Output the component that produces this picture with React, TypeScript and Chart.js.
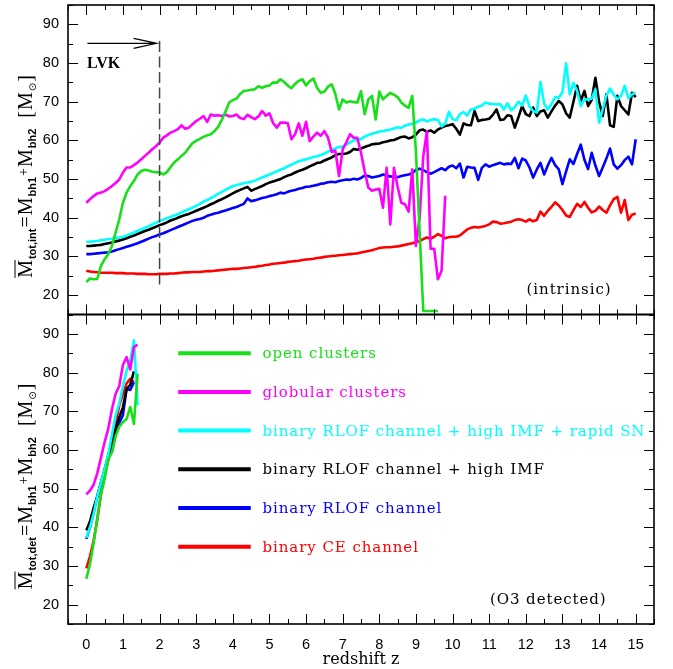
import React, { useEffect, useRef } from 'react';
import { Chart, registerables } from 'chart.js';

Chart.register(...registerables);

// redshift grids (sample positions)
const Z_INT: number[] = Array.from({ length: 151 }, (_, i) => i / 10);
const Z_DET: number[] = Array.from({ length: 15 }, (_, i) => i / 10);

// axis tick labels
const X_TICKS = [0, 1, 2, 3, 4, 5, 6, 7, 8, 9, 10, 11, 12, 13, 14, 15];
const Y_TICKS = [20, 30, 40, 50, 60, 70, 80, 90];

// ---------- intrinsic (top panel) ----------
const GREEN_INT = [
  23.4, 24.3, 24.1, 24.2, 27.6, 29.3, 30.6, 32.7, 36.2, 39.6,
  43.9, 46.5, 48.2, 49.5, 51.2, 52.1, 52.4, 52.2, 51.9, 51.8,
  51.7, 51.2, 51.8, 53.1, 54.3, 55.1, 56.0, 56.8, 58.1, 59.3,
  59.9, 60.4, 60.9, 61.3, 61.6, 62.4, 63.5, 65.3, 67.5, 69.8,
  70.4, 70.8, 72.0, 72.8, 72.9, 73.1, 73.2, 74.0, 73.6, 74.0,
  74.2, 75.0, 74.9, 75.8, 75.1, 74.2, 73.5, 74.6, 75.4, 75.8,
  74.2, 75.3, 76.0, 73.6, 72.3, 72.6, 73.9, 74.5, 72.0, 68.0,
  70.6, 69.8, 70.1, 69.9, 69.8, 72.7, 66.8, 70.6, 71.5, 65.4,
  72.6, 70.6, 71.5, 72.3, 71.8, 71.2, 69.8, 69.0, 68.4, 71.5,
  57.0, 36.5, 15.9, 15.9, 15.9, 15.9, 15.9,
];
const MAGENTA_INT = [
  43.9, 44.8, 45.6, 46.3, 46.5, 46.9, 47.5, 48.2, 49.0, 49.9,
  51.7, 53.0, 53.0, 53.6, 54.3, 55.1, 56.0, 56.8, 57.7, 58.5,
  59.4, 60.7, 61.3, 62.0, 62.4, 62.9, 63.9, 63.0, 63.3, 64.2,
  65.0, 65.6, 66.3, 64.8, 66.7, 66.4, 66.5, 66.3, 66.7, 66.2,
  66.3, 66.7, 65.8, 65.5, 66.6, 66.0, 65.5, 66.2, 67.6, 66.4,
  67.0, 64.5, 63.3, 64.6, 64.6, 64.5, 60.3, 61.6, 64.4, 61.2,
  64.8, 59.8, 61.0, 62.0, 61.2, 62.4, 60.7, 57.0, 57.3, 50.8,
  57.7, 59.5, 61.6, 60.7, 60.7, 56.8, 52.0, 47.8, 47.0, 47.3,
  47.5, 42.6, 52.9, 38.3, 52.9, 48.0, 43.9, 43.5, 41.6, 52.5,
  32.7, 40.0, 55.9, 62.4, 32.0, 32.0, 24.1, 26.3, 45.7,
];
const CYAN_INT = [
  33.8, 33.8, 33.9, 34.0, 34.2, 34.3, 34.5, 34.6, 34.8, 34.9,
  35.1, 35.4, 35.8, 36.2, 36.6, 37.0, 37.4, 37.8, 38.3, 38.7,
  39.2, 39.5, 39.9, 40.2, 40.6, 40.9, 41.4, 41.8, 42.2, 42.6,
  43.1, 43.6, 44.2, 44.6, 45.1, 45.6, 46.2, 46.7, 47.2, 47.7,
  48.2, 48.4, 48.7, 48.9, 49.1, 49.3, 49.6, 50.0, 50.4, 50.8,
  51.2, 51.6, 52.0, 52.4, 52.8, 53.3, 53.7, 54.2, 54.6, 54.9,
  55.1, 55.4, 55.7, 55.9, 56.2, 56.6, 57.1, 57.5, 57.9, 58.3,
  58.4, 58.9, 59.5, 60.0, 60.2, 60.4, 61.0, 61.4, 61.7, 62.0,
  62.3, 62.4, 62.6, 62.8, 63.1, 63.4, 63.2, 63.8, 64.1, 64.3,
  64.6, 65.2, 65.4, 64.9, 65.3, 65.5, 65.3, 63.6, 64.3, 67.4,
  65.5, 65.2, 66.8, 67.3, 66.4, 68.0, 68.2, 68.7, 69.0, 69.8,
  69.5, 69.4, 69.3, 69.4, 68.0, 69.6, 67.8, 68.6, 70.0, 69.0,
  71.6, 68.8, 67.6, 67.2, 75.1, 69.5, 68.0, 69.4, 71.2, 71.0,
  72.5, 79.9, 71.9, 74.9, 72.8, 68.9, 70.6, 70.6, 70.8, 73.2,
  64.6, 68.0, 71.6, 73.4, 71.8, 70.6, 71.5, 74.1, 70.9, 71.9,
  72.3,
];
const BLACK_INT = [
  32.7, 32.7, 32.8, 32.9, 33.0, 33.2, 33.4, 33.6, 33.9, 34.1,
  34.4, 34.7, 35.1, 35.4, 35.8, 36.2, 36.6, 36.9, 37.3, 37.7,
  38.1, 38.4, 38.8, 39.3, 39.6, 40.0, 40.4, 40.7, 41.0, 41.4,
  41.8, 42.2, 42.6, 43.0, 43.5, 43.9, 44.4, 44.8, 45.3, 45.8,
  46.3, 46.8, 47.2, 47.6, 48.0, 47.0, 47.4, 47.8, 48.2, 48.7,
  49.1, 49.4, 49.7, 50.0, 50.5, 50.9, 51.2, 51.7, 52.1, 52.4,
  52.8, 53.3, 53.7, 54.2, 54.3, 54.8, 55.2, 55.6, 56.2, 56.5,
  56.5, 56.6, 57.0, 57.8, 57.6, 57.9, 58.3, 58.6, 59.0, 59.1,
  59.2, 59.5, 59.7, 60.0, 60.1, 60.5, 60.9, 61.0, 60.5, 60.8,
  61.5, 62.6, 62.8, 62.2, 62.6, 62.0, 62.8, 63.3, 63.7, 63.9,
  64.2, 63.0, 61.5, 64.4, 64.0, 63.9, 67.6, 65.0, 65.3, 65.4,
  65.6, 66.6, 68.0, 65.3, 65.4, 66.5, 66.3, 63.3, 66.0, 68.9,
  66.8, 66.3, 68.5, 66.3, 67.5, 67.8, 65.9, 67.5, 69.0, 70.2,
  69.3, 67.0, 65.9, 70.0, 74.1, 70.2, 72.8, 68.9, 70.5, 76.2,
  70.0, 66.3, 71.9, 63.9, 63.5, 71.5, 68.9, 67.8, 66.7, 72.3,
  71.2,
];
const BLUE_INT = [
  30.6, 30.6, 30.7, 30.8, 30.9, 31.0, 31.1, 31.3, 31.6, 31.9,
  32.2, 32.5, 32.8, 33.1, 33.4, 33.8, 34.2, 34.6, 35.0, 35.3,
  35.7, 36.0, 36.4, 36.8, 37.2, 37.6, 38.0, 38.4, 38.8, 39.2,
  39.5, 39.7, 40.0, 40.5, 40.8, 41.1, 41.3, 41.6, 41.9, 42.2,
  42.5, 42.8, 43.2, 43.6, 45.0, 44.3, 44.5, 44.8, 45.1, 45.3,
  45.6, 45.8, 46.1, 46.5, 46.3, 46.7, 47.0, 47.2, 47.5, 47.7,
  48.0, 48.1, 48.3, 48.5, 48.8, 48.9, 49.2, 49.3, 49.2, 49.5,
  49.7, 49.9, 49.8, 50.1, 49.9, 50.3, 50.9, 50.8, 50.4, 50.6,
  50.8, 51.2, 50.9, 50.7, 50.6, 50.5, 50.8, 51.0, 51.2, 51.5,
  52.4, 52.7, 52.3, 51.8, 51.4, 51.8, 52.3, 52.8, 52.3, 53.2,
  53.5, 52.8, 54.0, 50.4, 53.2, 53.0, 52.9, 49.8, 52.9, 53.8,
  53.2, 53.6, 53.9, 54.2, 53.8, 54.0, 53.9, 55.5, 52.8, 55.3,
  54.8, 53.0, 50.4, 52.5, 54.2, 51.2, 53.5, 55.5, 53.6, 52.5,
  48.7, 52.0, 55.1, 53.9, 56.5, 58.9, 55.0, 52.6, 56.8, 53.5,
  50.8, 53.0, 55.3, 57.9, 53.8, 52.7, 53.6, 54.9, 55.8, 53.8,
  60.3,
];
const RED_INT = [
  26.3, 26.1, 26.0, 25.9, 25.8, 25.8, 25.8, 25.8, 25.7, 25.7,
  25.7, 25.6, 25.6, 25.6, 25.5, 25.5, 25.5, 25.4, 25.4, 25.4,
  25.5, 25.5, 25.5, 25.6, 25.6, 25.7, 25.8, 25.9, 25.9, 26.0,
  26.0, 26.0, 26.1, 26.2, 26.2, 26.3, 26.4, 26.5, 26.6, 26.7,
  26.8, 26.8, 26.9, 27.0, 27.1, 27.2, 27.3, 27.5, 27.6, 27.8,
  27.9, 28.1, 28.2, 28.3, 28.4, 28.6, 28.7, 28.8, 28.9, 29.1,
  29.2, 29.3, 29.4, 29.6, 29.7, 29.9, 30.0, 30.1, 30.2, 30.3,
  30.4, 30.5, 30.6, 30.7, 30.8, 31.0, 31.2, 31.4, 31.6, 31.9,
  32.2, 32.3, 32.4, 32.4, 32.5, 32.6, 32.8, 33.0, 33.2, 33.4,
  33.7, 34.0, 34.5, 34.9, 34.6, 35.1, 35.8, 35.3, 34.7, 35.0,
  35.1, 35.1, 35.4, 36.2, 37.0, 37.4, 37.6, 37.5, 37.7, 37.9,
  38.3, 39.0, 38.9, 38.5, 38.6, 38.8, 39.0, 39.4, 39.6, 39.4,
  39.0, 39.6, 39.1, 39.4, 41.6, 40.5, 41.8, 42.8, 44.0, 43.2,
  42.0, 40.6, 40.2, 42.0, 43.6, 42.8, 44.1, 42.6, 41.4, 41.8,
  42.9, 42.0, 41.3, 43.2, 44.8, 45.4, 41.3, 44.6, 39.4, 40.8,
  41.1,
];

// ---------- O3 detected (bottom panel) ----------
const GREEN_DET = [26.7, 30.5, 36.0, 42.5, 48.5, 52.5, 57.5, 59.4, 63.5, 66.0, 67.2, 68.0, 71.1, 66.7, 79.7];
const MAGENTA_DET = [48.5, 49.5, 51.0, 54.0, 58.0, 62.0, 65.5, 70.5, 74.5, 76.5, 82.0, 84.0, 80.8, 86.6, 87.2];
const CYAN_DET = [37.3, 40.0, 43.5, 48.0, 51.5, 55.0, 59.0, 64.0, 69.0, 72.0, 76.5, 80.5, 83.0, 88.3, 71.5];
const BLACK_DET = [39.2, 41.5, 45.0, 48.0, 51.5, 55.0, 58.5, 62.0, 65.5, 68.5, 71.0, 75.8, 76.8, 80.3];
const BLUE_DET = [37.0, 40.0, 43.8, 48.0, 51.5, 54.5, 58.5, 59.6, 64.0, 67.0, 69.0, 75.8, 75.5, 77.5];
const RED_DET = [29.4, 32.5, 36.5, 42.0, 48.5, 53.5, 57.5, 62.5, 67.0, 71.5, 74.5, 77.2, 78.4, 77.5];

const LEGEND_LABELS = [
  'open clusters',
  'globular clusters',
  'binary RLOF channel + high IMF + rapid SN',
  'binary RLOF channel + high IMF',
  'binary RLOF channel',
  'binary CE channel',
];
const COLORS = ['#18e018', '#ff00ff', '#00ffff', '#000000', '#0000ff', '#ff0000'];
const LEGEND_Y = [85, 75, 65, 55, 45, 35];

const SERIF = '"DejaVu Serif", serif';
const TICK_FONT = { family: '"Liberation Sans", Arial, sans-serif', size: 14.5 };

function mk(zs: number[], vs: number[]) {
  return vs.map((v, i) => ({ x: zs[i], y: v }));
}

function spaced(ctx: any, px: string) {
  if ('letterSpacing' in ctx) ctx.letterSpacing = px;
}

function drawYTitle(ctx: CanvasRenderingContext2D, cx: number, cy: number, sub: string) {
  const main = '20px "Liberation Serif", serif';
  const small = 'bold 11px "Liberation Sans", sans-serif';
  const parts = [
    { t: 'M', f: main, dy: 0, over: true },
    { t: sub, f: small, dy: 4 },
    { t: '=', f: main, dy: 0 },
    { t: 'M', f: main, dy: 0 },
    { t: 'bh1', f: small, dy: 4 },
    { t: '+', f: '14px "Liberation Serif", serif', dy: -4 },
    { t: 'M', f: main, dy: 0 },
    { t: 'bh2', f: small, dy: 4 },
    { t: '  [', f: main, dy: 0 },
    { t: 'M', f: main, dy: 0 },
    { t: '\u2299', f: '10px "DejaVu Sans", sans-serif', dy: 4 },
    { t: ']', f: main, dy: 0 },
  ];
  let W = 0;
  const ws: number[] = [];
  for (const p of parts) {
    ctx.font = p.f;
    const w = ctx.measureText(p.t).width + 1;
    ws.push(w);
    W += w;
  }
  ctx.save();
  ctx.translate(cx, cy);
  ctx.rotate(-Math.PI / 2);
  ctx.fillStyle = '#000';
  ctx.strokeStyle = '#000';
  ctx.textBaseline = 'alphabetic';
  ctx.textAlign = 'left';
  let x = -W / 2;
  parts.forEach((p, i) => {
    ctx.font = p.f;
    ctx.fillText(p.t, x, p.dy);
    if ((p as any).over) {
      ctx.lineWidth = 1;
      ctx.beginPath();
      ctx.moveTo(x, -16.5);
      ctx.lineTo(x + ws[i] - 1, -16.5);
      ctx.stroke();
    }
    x += ws[i];
  });
  ctx.restore();
}

const overlay = {
  id: 'overlay',
  afterDraw(chart: any) {
    const { ctx } = chart;
    const sx = chart.scales.x;
    const yt = chart.scales.yTop;
    const yb = chart.scales.yBot;
    const X = (v: number) => sx.getPixelForValue(v);
    ctx.save();

    // LVK dashed line at z = 2
    ctx.strokeStyle = '#444';
    ctx.lineWidth = 1.5;
    ctx.setLineDash([11, 4.5]);
    ctx.beginPath();
    ctx.moveTo(X(2), yt.getPixelForValue(85.7));
    ctx.lineTo(X(2), yt.getPixelForValue(22.2));
    ctx.stroke();
    ctx.setLineDash([]);

    // arrow
    const ay = yt.getPixelForValue(85.1);
    const ax0 = X(0.03);
    const ax1 = X(1.92);
    ctx.strokeStyle = '#000';
    ctx.lineWidth = 1.2;
    ctx.beginPath();
    ctx.moveTo(ax0, ay);
    ctx.lineTo(ax1, ay);
    ctx.moveTo(ax1 - 23, ay - 5);
    ctx.lineTo(ax1, ay);
    ctx.lineTo(ax1 - 23, ay + 5);
    ctx.stroke();

    ctx.fillStyle = '#000';
    ctx.textAlign = 'left';
    ctx.textBaseline = 'alphabetic';
    ctx.font = 'bold 16px "Liberation Serif", serif';
    ctx.fillText('LVK', X(0.02), yt.getPixelForValue(78.6));

    ctx.font = '15px ' + SERIF;
    spaced(ctx, '0.93px');
    ctx.fillText('(intrinsic)', X(12.02), yt.getPixelForValue(20.25));
    ctx.fillText('(O3 detected)', X(11.02), yb.getPixelForValue(20.1));

    // legend
    LEGEND_LABELS.forEach((lab, i) => {
      const py = yb.getPixelForValue(LEGEND_Y[i]);
      ctx.strokeStyle = COLORS[i];
      ctx.lineWidth = 4;
      ctx.beginPath();
      ctx.moveTo(X(2.51), py);
      ctx.lineTo(X(4.49), py);
      ctx.stroke();
      ctx.fillStyle = COLORS[i];
      ctx.fillText(lab, X(4.81), py + 5);
    });
    spaced(ctx, '0px');

    // frames and inward ticks
    const left = chart.chartArea.left;
    const right = chart.chartArea.right;
    ctx.strokeStyle = '#000';
    for (const ys of [yt, yb]) {
      const top = ys.top;
      const bot = ys.bottom;
      ctx.lineWidth = 1;
      ctx.beginPath();
      for (let k = -1; k <= 31; k++) {
        const v = k / 2;
        const px = Math.round(X(v)) + 0.5;
        const len = k % 2 === 0 ? 10 : 5;
        ctx.moveTo(px, top);
        ctx.lineTo(px, top + len);
        ctx.moveTo(px, bot);
        ctx.lineTo(px, bot - len);
      }
      for (let v = 15; v <= 95; v += 5) {
        const py = Math.round(ys.getPixelForValue(v)) + 0.5;
        const len = v % 10 === 0 ? 10 : 5;
        ctx.moveTo(left, py);
        ctx.lineTo(left + len, py);
        ctx.moveTo(right, py);
        ctx.lineTo(right - len, py);
      }
      ctx.stroke();
      ctx.lineWidth = 1.6;
      ctx.strokeRect(left, top, right - left, bot - top);
    }

    drawYTitle(ctx, 31.5, 176, 'tot,int');
    drawYTitle(ctx, 31.5, 486, 'tot,det');
    ctx.restore();
  },
};

function yScale(weight: number) {
  return {
    type: 'linear',
    position: 'left',
    stack: 'panels',
    stackWeight: 1,
    weight,
    min: 15,
    max: 95,
    grid: { display: false, drawTicks: false },
    border: { display: false },
    ticks: { font: TICK_FONT, color: '#000', padding: 9, autoSkip: false },
    afterBuildTicks: (s: any) => {
      s.ticks = Y_TICKS.map((v) => ({ value: v }));
    },
    afterFit: (s: any) => {
      s.width = 68;
      s.paddingTop = 0;
      s.paddingBottom = 0;
    },
  };
}

export default function App() {
  const ref = useRef<HTMLCanvasElement>(null);
  useEffect(() => {
    if (!ref.current) return;
    const line = (data: any, color: string, axis: string) => ({
      data,
      borderColor: color,
      backgroundColor: color,
      yAxisID: axis,
      borderWidth: 2.6,
      pointRadius: 0,
      tension: 0,
      fill: false,
      borderJoinStyle: 'round',
    });
    const top = [GREEN_INT, MAGENTA_INT, CYAN_INT, BLACK_INT, BLUE_INT, RED_INT];
    const bot = [GREEN_DET, MAGENTA_DET, CYAN_DET, BLACK_DET, BLUE_DET, RED_DET];
    const datasets: any[] = [];
    top.forEach((vs, i) => datasets.push(line(mk(Z_INT, vs), COLORS[i], 'yTop')));
    bot.forEach((vs, i) => datasets.push(line(mk(Z_DET, vs), COLORS[i], 'yBot')));

    const chart = new Chart(ref.current, {
      type: 'line',
      data: { datasets },
      plugins: [overlay],
      options: {
        responsive: false,
        animation: false,
        devicePixelRatio: 1,
        layout: { padding: { top: 5, right: 19, left: 0, bottom: 0 } },
        plugins: { legend: { display: false }, tooltip: { enabled: false } },
        scales: {
          x: {
            type: 'linear',
            position: 'bottom',
            min: -0.5,
            max: 15.5,
            grid: { display: false, drawTicks: false },
            border: { display: false },
            ticks: { font: TICK_FONT, color: '#000', padding: 12, maxRotation: 0, autoSkip: false },
            afterBuildTicks: (s: any) => {
              s.ticks = X_TICKS.map((v) => ({ value: v }));
            },
            afterFit: (s: any) => {
              s.height = 45;
              s.paddingLeft = 0;
              s.paddingRight = 0;
            },
            title: {
              display: true,
              text: 'redshift z',
              color: '#000',
              font: { family: '"DejaVu Serif", serif', size: 16 },
              padding: { top: 0, bottom: 0 },
            },
          },
          yBot: yScale(1),
          yTop: yScale(2),
        } as any,
      } as any,
    });
    return () => chart.destroy();
  }, []);

  return (
    <div style={{ position: 'absolute', left: 0, top: 0, width: 673, height: 669, background: '#fff' }}>
      <canvas ref={ref} width={673} height={669} style={{ width: 673, height: 669, display: 'block' }} />
    </div>
  );
}
